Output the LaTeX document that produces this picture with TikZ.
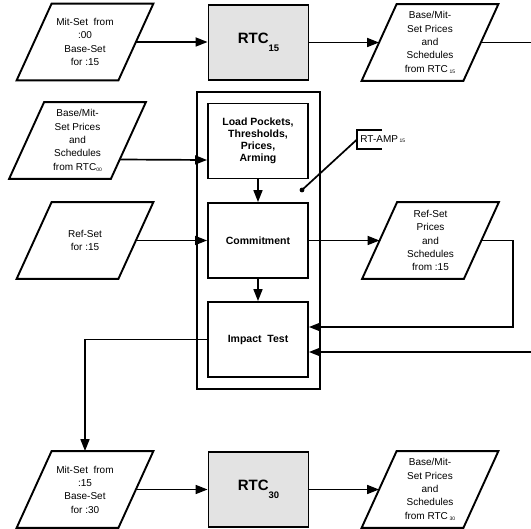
\documentclass[tikz,border=0pt]{standalone}
\usepackage{fontspec}
\setmainfont{Liberation Sans}
\usetikzlibrary{arrows.meta}
\newcommand{\tinysub}[1]{{\fontsize{5}{5}\selectfont\raisebox{-1.2pt}{#1}}}
\begin{document}
\begin{tikzpicture}[x=1pt,y=-1pt,
  line width=1.8pt,
  conn/.style={line width=1.7pt},
  arr/.style={conn,-{Triangle[length=12pt,width=9pt]}},
  para/.style={minimum width=100pt, minimum height=75pt, inner sep=0pt, align=center,
    font=\fontsize{10}{13.3}\selectfont},
  proc/.style={draw, line width=1.9pt, minimum width=100pt, minimum height=75pt, inner sep=0pt, align=center,
    font=\fontsize{10.5}{11.8}\selectfont\bfseries},
  rtc/.style={proc, fill=black!11, font=\fontsize{15}{17}\selectfont\bfseries},
  outline/.style={line width=1.9pt}]
\useasboundingbox (0,0) rectangle (531,529);

% outer RT-AMP box
\node[draw, outline, minimum width=123pt, minimum height=297pt, inner sep=0pt] (amp) at (258.5,240.5) {};

% process boxes
\node[rtc] (rtc15) at (258.5,42.5) {RTC\raisebox{-8pt}{\fontsize{9.5}{10}\selectfont 15}};
\node[rtc] (rtc30) at (258.5,489.5) {RTC\raisebox{-8pt}{\fontsize{9.5}{10}\selectfont 30}};
\node[proc, fill=white] (load) at (258,141) {Load Pockets,\\Thresholds,\\Prices,\\Arming};
\node[proc, fill=white] (comm) at (258,240.5) {Commitment};
\node[proc, fill=white] (imp) at (258,339.5) {Impact\ \ Test};

% data parallelograms
\node[para] (p1) at (85,42) {Mit-Set\ \ from\\:00\\Base-Set\\for :15};
\node[para] (p2) at (430,42.5) {Base/Mit-\\Set Prices\\and\\Schedules\\from RTC\,\tinysub{15}};
\node[para] (p3) at (77.5,140.5) {Base/Mit-\\Set Prices\\and\\Schedules\\from RTC\tinysub{00}};
\node[para] (p4) at (85,240.5) {Ref-Set\\for :15};
\node[para] (p5) at (430.5,240.5) {Ref-Set\\Prices\\and\\Schedules\\from :15};
\node[para] (p6) at (85,489.5) {Mit-Set\ \ from\\:15\\Base-Set\\for :30};
\node[para] (p7) at (430,489.5) {Base/Mit-\\Set Prices\\and\\Schedules\\from RTC\,\tinysub{30}};

\foreach \n in {p1,p2,p3,p4,p5,p6,p7}
  \draw[outline, line join=miter] ([xshift=-17.5pt]\n.south west) -- ([xshift=-17.5pt]\n.south east)
     -- ([xshift=17.5pt]\n.north east) -- ([xshift=17.5pt]\n.north west) -- cycle;

% RT-AMP label
\node[anchor=west, minimum height=17pt, inner sep=2.5pt, font=\fontsize{10}{12}\selectfont]
  (lab) at (357,139.5) {RT-AMP\,{\fontsize{5}{5}\selectfont 15}};
\draw[line width=1.7pt] ([xshift=25pt]lab.north west) -- (lab.north west) -- (lab.south west) -- ([xshift=25pt]lab.south west);
\coordinate (dot) at (302,190);
\draw[conn] (lab.west) -- (dot);
\fill (dot) circle (2.4pt);

% off-page ends
\coordinate (outR) at (531,42.5);
\coordinate (inR) at (531,352);

% connectors
\draw[arr] (p1.east) -- (p1.east -| rtc15.west);
\draw[arr] (rtc15.east) -- (rtc15.east -| p2.west);
\draw[conn] (p2.east) -- (outR);
\draw[arr] ([xshift=-9pt,yshift=-19pt]p3.east) -- ([yshift=-19pt]load.west);
\draw[arr] (p4.east) -- (comm.west);
\draw[arr] (load.south) -- (comm.north);
\draw[arr] (comm.south) -- (imp.north);
\draw[arr] (comm.east) -- (p5.west);
\draw[arr] (p5.east) -- ++(31.5,0) |- ([yshift=12.5pt]imp.east);
\draw[arr] (inR) -- (inR -| imp.east);
\draw[arr] (imp.west) -| (p6.north);
\draw[arr] (p6.east) -- (rtc30.west);
\draw[arr] (rtc30.east) -- (p7.west);
\end{tikzpicture}
\end{document}
